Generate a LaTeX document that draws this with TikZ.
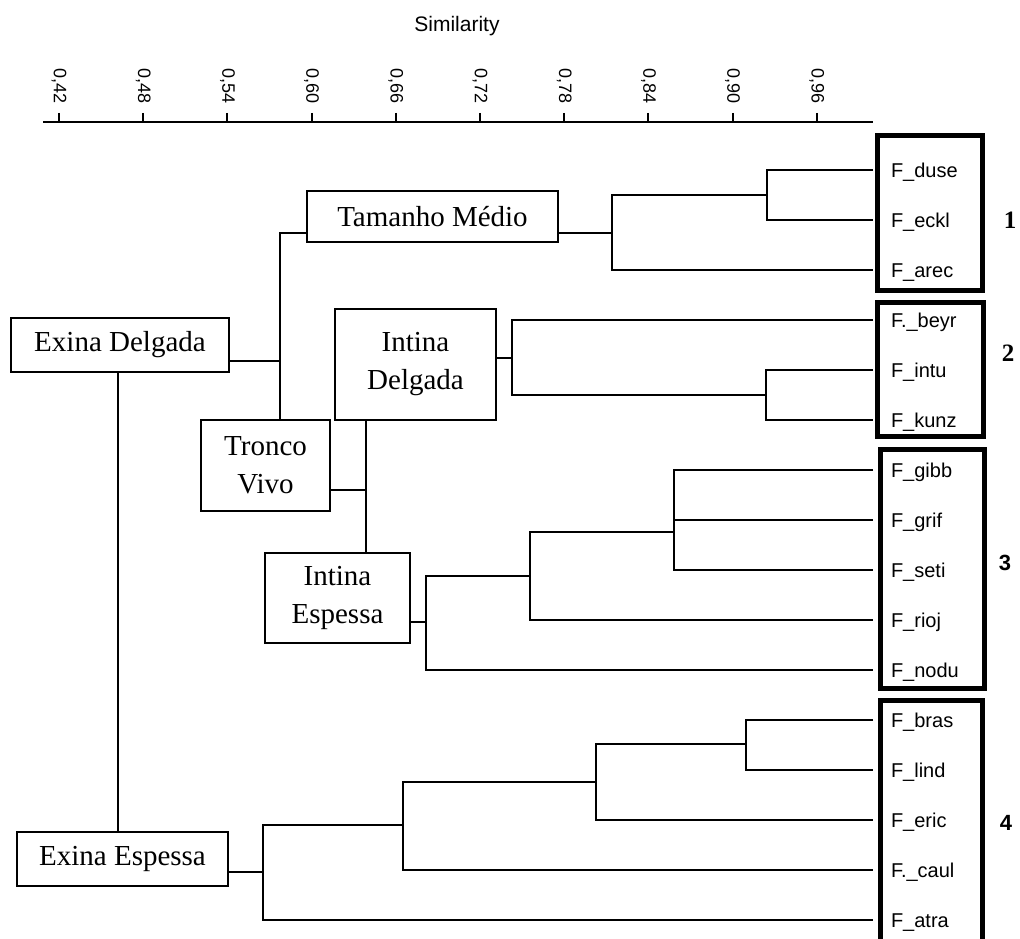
\documentclass[tikz,border=0pt]{standalone}
\usepackage{fontspec}
\setmainfont{Liberation Serif}
\setsansfont{Liberation Sans}
\usetikzlibrary{positioning}

\begin{document}
\begin{tikzpicture}[x=1pt, y=-1pt, line width=2pt,
		leaf/.style={anchor=west, inner xsep=17pt, inner ysep=0pt, text height=14pt, text depth=0pt,
			font=\sffamily\fontsize{20}{24}\selectfont},
		trait/.style={draw, fill=white, line width=1.6pt, align=center, inner sep=0pt,
			font=\fontsize{29}{38}\selectfont},
		group/.style={draw, line width=5pt}]
	\useasboundingbox (0,0) rectangle (1020,939);

	% similarity axis
	\node[font=\sffamily\fontsize{21}{24}\selectfont] (sim) at (457,26) {Similarity};
	\draw (43,122) -- (873,122);
	\foreach \v [count=\i from 0] in {42,48,54,60,66,72,78,84,90,96} {
		\draw ({59+84.2*\i},113) -- ({59+84.2*\i},122);
		\node[rotate=-90, anchor=east, inner sep=0pt, font=\sffamily\fontsize{18}{20}\selectfont] (t\v) at ({59+84.2*\i},105) {0,\v};
	}

	% leaves
	\foreach \n/\t [count=\i from 0] in {duse/F\_duse, eckl/F\_eckl, arec/F\_arec, beyr/F.\_beyr, intu/F\_intu, kunz/F\_kunz,
			gibb/F\_gibb, grif/F\_grif, seti/F\_seti, rioj/F\_rioj, nodu/F\_nodu,
			bras/F\_bras, lind/F\_lind, eric/F\_eric, caul/F.\_caul, atra/F\_atra}
		\node[leaf] (\n) at (873,{170+50*\i}) {\t};

	% joins
	\coordinate (j1) at (767,195);
	\coordinate (j2) at (612,232.5);
	\coordinate (j3) at (766,395);
	\coordinate (j4) at (512,357.5);
	\coordinate (j5) at (674,495);
	\coordinate (j6) at (674,532);
	\coordinate (j7) at (530,575.5);
	\coordinate (j8) at (426,622);
	\coordinate (j9) at (366,489.75);
	\coordinate (j10) at (280,361);
	\coordinate (j11) at (746,744);
	\coordinate (j12) at (596,781.5);
	\coordinate (j13) at (403,825);
	\coordinate (j14) at (263,872);
	\coordinate (j15) at (118,616.5);

	\draw (duse.west) -| (j1) |- (eckl.west);
	\draw (j1) -| (j2) |- (arec.west);
	\draw (intu.west) -| (j3) |- (kunz.west);
	\draw (beyr.west) -| (j4) |- (j3);
	\draw (gibb.west) -| (j5) |- (grif.west);
	\draw (j5) |- (seti.west);
	\draw (j6) -| (j7) |- (rioj.west);
	\draw (j7) -| (j8) |- (nodu.west);
	\draw (j4) -| (j9) |- (j8);
	\draw (j2) -| (j10) |- (j9);
	\draw (bras.west) -| (j11) |- (lind.west);
	\draw (j11) -| (j12) |- (eric.west);
	\draw (j12) -| (j13) |- (caul.west);
	\draw (j13) -| (j14) |- (atra.west);
	\draw (j10) -| (j15) |- (j14);

	% character boxes
	\node[trait, minimum width=218, minimum height=54] (exdel) at (120,345) {Exina Delgada};
	\node[trait, minimum width=211, minimum height=54] (exesp) at (122.5,859) {Exina Espessa};
	\node[trait, minimum width=251, minimum height=51] (tam) at (432.5,216.5) {Tamanho Médio};
	\node[trait, minimum width=161, minimum height=111] (intdel) at (415.5,364.5) {Intina\\Delgada};
	\node[trait, minimum width=129, minimum height=91] (tronco) at (265.5,465.5) {Tronco\\Vivo};
	\node[trait, minimum width=145, minimum height=90] (intesp) at (337.5,598) {Intina\\Espessa};

	% groups
	\draw[group] (877,135.5) rectangle (982,290);
	\draw[group] (877.5,302) rectangle (983,436);
	\draw[group] (880,449) rectangle (984,688);
	\draw[group] (880,700) rectangle (982,950);
	\node[font=\bfseries\fontsize{25}{30}\selectfont] (g1) at (1010,220) {1};
	\node[font=\bfseries\fontsize{25}{30}\selectfont] (g2) at (1008,353) {2};
	\node[font=\sffamily\bfseries\fontsize{22}{26}\selectfont] (g3) at (1005,563) {3};
	\node[font=\sffamily\bfseries\fontsize{22}{26}\selectfont] (g4) at (1006,823) {4};
\end{tikzpicture}
\end{document}
